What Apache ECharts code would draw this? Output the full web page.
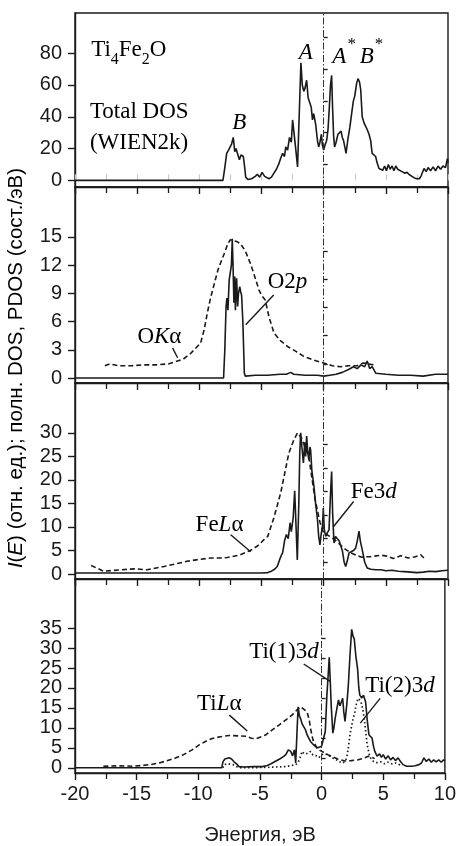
<!DOCTYPE html>
<html>
<head>
<meta charset="utf-8">
<script src="https://cdn.jsdelivr.net/npm/echarts@6/dist/echarts.min.js"></script>
<style>
html,body{margin:0;padding:0;background:#fff;}
#chart{width:459px;height:846px;}
</style>
</head>
<body>
<div id="chart"></div>
<script>
// ---- panel 1: total DOS (WIEN2k)
const totE = [-20,-8.1,-7.95,-7.8,-7.65,-7.5,-7.4,-7.27,-7.15,-7.05,-6.9,-6.78,-6.65,-6.46,-6.35,-6.27,-6.1,-5.8,-5.5,-5.33,-5.15,-4.95,-4.75,-4.4,-4.2,-4.0,-3.8,-3.6,-3.45,-3.3,-3.15,-3.05,-2.9,-2.75,-2.6,-2.5,-2.4,-2.25,-2.1,-1.95,-1.83,-1.72,-1.6,-1.5,-1.37,-1.25,-1.1,-1.0,-0.9,-0.8,-0.64,-0.5,-0.4,-0.3,-0.18,-0.1,0,0.1,0.24,0.35,0.45,0.55,0.64,0.72,0.8,0.88,1.0,1.15,1.3,1.4,1.5,1.6,1.7,1.8,1.95,2.1,2.25,2.39,2.5,2.65,2.76,2.88,2.98,3.1,3.25,3.38,3.5,3.65,3.78,3.9,4.05,4.18,4.3,4.45,4.6,4.75,4.9,5.05,5.2,5.35,5.5,5.65,5.8,5.95,6.1,6.3,6.5,6.7,6.9,7.1,7.3,7.5,7.7,7.85,8.07,8.25,8.4,8.6,8.8,9.0,9.2,9.4,9.6,9.8,9.95,10];
const totV = [0,0,8,17,19,20,23,27,18,20,21,13,16,15,8,2,0.5,1,2.5,3.8,2,5,2.5,1,2,4.5,7,10.5,14,17,15,21,19,27,24,38,31,20,8.4,45,74,60,56,58,63,52,53,46,38,42,35,25,21,24,29,22,19,22,25,32,45,60,66,45,28,21,24,29,28,31,27,25,21,17,26,33,42,50,53,61,64,62,57,40,36,34,32,29,25,17,16,15,11,7.4,8,6.3,9,6,10,7,9,6,9,7,8,5.5,4.5,5,3.5,2.5,1.5,1,1,3,7.4,5.5,8,6,8.5,6,9,7,9,8,13.6,11];

// ---- panel 2: O Ka emission and O 2p PDOS
const okaE = [-17.6,-17.2,-16.5,-15.5,-14.5,-13.5,-12.5,-12,-11.3,-10.7,-10.2,-9.9,-9.6,-9.36,-9.1,-8.8,-8.5,-8.3,-8.0,-7.7,-7.5,-7.3,-7.0,-6.7,-6.3,-5.9,-5.5,-5.2,-4.95,-4.7,-4.4,-4.0,-3.5,-2.9,-2.2,-1.6,-0.8,0,0.7,1.37,2.0,2.7,3.2,3.6,4.0];
const okaV = [1.3,1.5,1.3,1.3,1.4,1.4,1.5,1.7,2.0,2.6,3.3,3.7,5.2,6.9,8.5,10,11.5,12.2,13.2,14.3,14.7,14.6,14.5,14.3,13.5,12.2,10.6,9.35,8.7,8.3,6.5,4.8,4.0,3.35,2.8,2.3,1.9,1.6,1.3,1.2,1.3,1.3,1.6,1.5,1.4];
const o2pE = [-20,-8.05,-7.95,-7.85,-7.78,-7.7,-7.6,-7.5,-7.42,-7.35,-7.28,-7.22,-7.15,-7.1,-7.0,-6.92,-6.85,-6.75,-6.68,-6.6,-6.5,-6.38,-6.3,-5.5,-4.5,-3.5,-3.0,-2.65,-2.4,-1.5,-0.5,0,0.5,1.0,1.5,2.0,2.4,2.7,3.0,3.3,3.5,3.7,3.9,4.2,5,6,7,8,9,10];
const o2pV = [0,0,3,7.6,8.5,7.2,10.4,10.5,12,14.8,11.5,8,10.8,7.2,10.6,7.6,9,9.7,9.2,8.8,6,0.5,0.2,0.3,0.3,0.4,0.4,0.6,0.4,0.3,0.3,0.2,0.3,0.4,0.6,0.9,1.2,1.0,1.4,1.2,1.8,1.0,1.2,0.5,0.4,0.3,0.3,0.2,0.4,0.4];

// ---- panel 3: Fe La emission and Fe 3d PDOS
const felaE = [-18.7,-17.7,-16.3,-15.2,-14.2,-12.85,-12,-11,-10,-9.1,-8.4,-7.75,-6.8,-5.9,-5.3,-4.8,-4.5,-4,-3.46,-2.8,-2.4,-2.1,-1.8,-1.2,-0.7,-0.3,0,0.5,1.0,1.63,2.17,3.0,3.8,4.6,5.1,5.6,6.2,6.8,7.3,7.8,8.1];
const felaV = [1.8,0.6,0.9,1.1,0.9,1.6,2.1,2.7,3.1,3.4,3.4,3.5,4.0,5.0,6.0,7.3,8.0,12,17.2,25.7,28.5,30,29,25,16,11,8.7,8,7,5.5,4.5,3.6,3.7,4.0,3.8,3.3,3.9,3.4,3.6,4.1,3.3];
const fe3dE = [-20,-5,-4.5,-4.2,-3.95,-3.73,-3.55,-3.4,-3.3,-3.15,-3.0,-2.85,-2.7,-2.6,-2.45,-2.33,-2.22,-2.12,-2.0,-1.92,-1.85,-1.75,-1.63,-1.52,-1.45,-1.37,-1.28,-1.2,-1.1,-1.05,-0.95,-0.85,-0.78,-0.65,-0.5,-0.4,-0.3,-0.2,-0.1,-0.03,0.05,0.16,0.3,0.43,0.55,0.64,0.72,0.83,0.95,1.1,1.25,1.37,1.5,1.65,1.77,1.9,2.04,2.2,2.4,2.57,2.7,2.84,2.95,3.1,3.3,3.5,3.8,4.2,4.6,5.0,5.5,6.0,6.5,7.0,7.5,8.0,8.5,9.0,9.5,10];
const fe3dV = [0.2,0.2,0.3,0.6,1.0,1.6,3,4.0,4.5,7,8.4,7.5,10.9,9,12,17.7,10,3.0,15,26,30,27,23.6,28,25,29.3,26,24.3,27,26.4,22,20,18.6,15,11.6,8,6.2,8.5,10,14,9.5,8,8.8,9.4,17,21.8,13,6.6,8,8.4,7,7.3,5,2.5,1.6,2.8,4.5,4.8,5,5.5,7,9.1,7,5.2,2.5,1.3,1.0,0.9,0.9,0.7,0.8,0.6,0.5,0.4,0.3,0.4,0.6,0.5,0.7,0.8];

// ---- panel 4: Ti La emission, Ti(1) 3d and Ti(2) 3d PDOS
const tilaE = [-17.7,-16.5,-15.3,-14.5,-13.9,-13.2,-12.6,-11.9,-11.2,-10.5,-9.9,-9.3,-8.8,-8.2,-7.5,-6.8,-6.1,-5.7,-5.3,-4.9,-4.5,-4.0,-3.46,-2.9,-2.4,-2.0,-1.7,-1.4,-1.18,-1.0,-0.9,-0.7,-0.4,-0.1,0.2,0.5,0.83,1.3,1.9,2.4,2.97,3.4,3.8,4.1,4.3];
const tilaV = [0.4,0.5,0.4,0.6,0.8,1.2,1.7,2.4,3.3,4.5,5.8,6.8,7.4,7.8,8.1,8.0,7.9,7.4,7.3,7.8,8.3,9.5,10.7,12,13.2,14.5,15.3,14.6,14,12,9.9,7,5,4.3,3.8,3.3,2.9,2.2,1.7,1.8,2.0,2.4,2.9,2.6,2.3];
const ti1E = [-20,-8.1,-8.0,-7.85,-7.7,-7.5,-7.3,-7.1,-6.9,-6.7,-6.3,-5.5,-4.8,-4.4,-4.1,-3.7,-3.4,-3.1,-2.9,-2.7,-2.5,-2.35,-2.2,-2.1,-1.98,-1.9,-1.8,-1.71,-1.58,-1.45,-1.3,-1.18,-1.05,-0.9,-0.75,-0.6,-0.45,-0.3,-0.15,0,0.16,0.3,0.43,0.55,0.62,0.7,0.78,0.91,1.0,1.1,1.25,1.37,1.48,1.58,1.71,1.8,1.9,2.05,2.17,2.3,2.44,2.55,2.65,2.78,2.92,3.02,3.1,3.25,3.4,3.57,3.7,3.84,4.1,4.2,4.32,4.5,4.7,4.85,5.0,5.2,5.4,5.6,5.8,6.0,6.2,6.4,6.6,6.9,7.3,7.6,7.9,8.1,8.3,8.5,8.7,8.9,9.1,9.3,9.5,9.7,9.9,10];
const ti1V = [0,0,1.5,2.2,2.0,2.5,2.2,1.5,1.0,0.3,0.2,0.3,0.3,0.6,1.0,1.7,2.2,2.8,3.3,4.5,4.1,3.0,4.5,1.2,10,15.3,13,12.4,11,10.7,9.5,8.3,7.5,6.6,6.8,5.6,5.4,5,4.6,5.4,5.4,9.1,18.2,24,27.7,22,15.7,8.7,10,12.4,15,17,15.5,15.5,17.4,14,11.6,16,20.7,28,34.7,33,32.3,28,24.8,20,18.2,17.5,18.2,16.5,12,8.3,7.4,5.5,4.1,2.9,3.5,2.6,3.3,2.2,3.0,2.0,2.6,1.8,2.5,1.6,0.8,0.4,0.4,0.5,0.8,1.2,2.5,1.6,2.2,1.4,2.0,1.5,2.0,1.4,2.0,1.7];
const ti2E = [-8.0,-7.9,-7.6,-7.2,-6.9,-6.5,-4.5,-3,-2.4,-2.1,-1.9,-1.75,-1.58,-1.4,-1.25,-1.1,-0.9,-0.7,-0.4,-0.2,0,0.25,0.5,0.8,1.1,1.4,1.7,1.9,2.04,2.17,2.3,2.5,2.7,2.85,2.98,3.1,3.2,3.35,3.46,3.6,3.7,3.85,3.96,4.2,4.5,4.8,5.1,5.4,5.7,6.0,6.3,6.5];
const ti2V = [0,0.8,1.0,0.8,0.3,0,0.1,0.3,0.6,0.8,1.3,2.5,4.1,3.5,3,3.6,4.1,3.2,3,2.6,3.3,3.5,3.3,2.6,2.2,1.6,1.2,1.6,2.5,5,8.3,11.5,14,16.5,17.4,17,16.5,14.5,12.4,8.5,5.8,3.5,2.5,1.6,1.3,1.5,1.0,1.4,1.0,1.2,0.8,0.5];

// ---- axes
const yMin = [-4.2, -0.53, -1.06, -1.3];
const yMax = [105.3, 20.3, 40.6, 47.3];
const yMajor = [[0,20,40,60,80],[0,3,6,9,12,15],[0,5,10,15,20,25,30],[0,5,10,15,20,25,30,35]];
const yMinor = [[10,30,50,70,90],[1.5,4.5,7.5,10.5,13.5],[2.5,7.5,12.5,17.5,22.5,27.5],[2.5,7.5,12.5,17.5,22.5,27.5,32.5]];

const ink = '#1a1a1a';
const sans = 'Liberation Sans, Arial, sans-serif';
const serif = 'Liberation Serif, Times New Roman, serif';

function zip(xs, ys){ return xs.map((x,i)=>[x, ys[i]]); }

var myChart = echarts.init(document.getElementById('chart'));

var tops = [13, 187, 383, 579];
var heights = [174, 196, 196, 196];
var grid = tops.map((t,i)=>({left:75, right:11, top:t, height:heights[i], show:true,
  borderColor:ink, borderWidth:1.4, backgroundColor:'transparent'}));

var xAxis = [0,1,2,3].map(i=>({
  gridIndex:i, type:'value', min:-20, max:10, interval:5, position:'bottom',
  axisLine:{show:true, onZero:false, lineStyle:{color:ink, width:1.4}},
  axisTick:{show:true, inside:false, length:7, lineStyle:{color:ink, width:1.4}},
  minorTick:{show:true, splitNumber:2, length:6, lineStyle:{color:ink, width:1.3}},
  axisLabel:{show:i===3, margin:11, fontSize:20, color:ink, fontFamily:sans},
  splitLine:{show:false},
  name: i===3 ? 'Энергия, эВ' : '',
  nameLocation:'middle', nameGap:52,
  nameTextStyle:{fontSize:20, color:ink, fontFamily:sans}
}));
// faint ticks above the top panel
xAxis.push({
  gridIndex:0, type:'value', min:-20, max:10, interval:5, position:'top',
  axisLine:{show:false},
  axisTick:{show:true, inside:false, length:6, lineStyle:{color:'#c8c8c8', width:1.2}},
  minorTick:{show:true, splitNumber:2, length:6, lineStyle:{color:'#c8c8c8', width:1.2}},
  axisLabel:{show:false}, splitLine:{show:false}
});

var yAxis = [];
[0,1,2,3].forEach(i=>{
  yAxis.push({
    gridIndex:i, type:'value', min:yMin[i], max:yMax[i],
    axisLine:{show:true, onZero:false, lineStyle:{color:ink, width:1.4}},
    axisTick:{show:true, inside:false, length:7, customValues:yMajor[i], lineStyle:{color:ink, width:1.4}},
    axisLabel:{show:true, customValues:yMajor[i], margin:13, fontSize:20, color:ink, fontFamily:sans},
    splitLine:{show:false}
  });
  yAxis.push({
    gridIndex:i, type:'value', min:yMin[i], max:yMax[i],
    axisLine:{show:false},
    axisTick:{show:true, inside:false, length:4, customValues:yMinor[i], lineStyle:{color:ink, width:1.3}},
    axisLabel:{show:false}, splitLine:{show:false}
  });
});

function line(g, xs, ys, dash, width, withZero){
  var s = {
    type:'line', xAxisIndex:g, yAxisIndex:2*g, data:zip(xs, ys),
    symbol:'none', showSymbol:false, silent:true,
    lineStyle:{color:ink, width:width, type:dash}
  };
  if (withZero) {
    s.markLine = {silent:true, symbol:'none', label:{show:false},
      lineStyle:{color:'#333', width:1, type:[7,2,1.5,2]},
      data:[{xAxis:0}]};
  }
  return s;
}

var series = [
  line(0, totE, totV, 'solid', 1.6, true),
  line(1, okaE, okaV, [5,3], 1.6, true),
  line(1, o2pE, o2pV, 'solid', 1.6, false),
  line(2, felaE, felaV, [5,3], 1.6, true),
  line(2, fe3dE, fe3dV, 'solid', 1.6, false),
  line(3, tilaE, tilaV, [5,3], 1.6, true),
  line(3, ti1E, ti1V, 'solid', 1.6, false),
  line(3, ti2E, ti2V, [1.5,2.5], 1.7, false)
];

myChart.setOption({
  animation:false,
  backgroundColor:'#fff',
  grid:grid, xAxis:xAxis, yAxis:yAxis, series:series
});

// annotations, placed in data coordinates of each panel
var rich = {
  n:{fontFamily:serif, fontSize:23, color:ink},
  i:{fontFamily:serif, fontSize:23, fontStyle:'italic', color:ink},
  // subscript: main text hangs from the top of the line box, the index sits on its bottom
  m:{fontFamily:serif, fontSize:23, color:ink, lineHeight:24, verticalAlign:'top'},
  b:{fontFamily:serif, fontSize:16, color:ink, lineHeight:30, verticalAlign:'bottom'},
  // superscript: letter sits on the bottom, star hangs from the top
  a:{fontFamily:serif, fontSize:23, fontStyle:'italic', color:ink, lineHeight:32, verticalAlign:'bottom'},
  p:{fontFamily:serif, fontSize:17, color:'#666', lineHeight:16, verticalAlign:'top', padding:[0,0,0,1]}
};
var notes = [
  {s:0, at:[-18.7,80], text:'{m|Ti}{b|4}{m|Fe}{b|2}{m|O}'},
  {s:0, at:[-18.8,43], text:'{n|Total DOS}'},
  {s:0, at:[-18.8,23.4], text:'{n|(WIEN2k)}'},
  {s:0, at:[-7.35,36], text:'{i|B}'},
  {s:0, at:[-2.0,80], text:'{i|A}'},
  {s:0, at:[0.7,80.5], text:'{a|A}{p|*}'},
  {s:0, at:[2.9,80.5], text:'{a|B}{p|*}'},
  {s:1, at:[-14.98,4.37], text:'{n|O}{i|K}{n|α}'},
  {s:1, at:[-4.5,10.2], text:'{n|O2}{i|p}'},
  {s:3, at:[-10.3,10.5], text:'{n|Fe}{i|L}{n|α}'},
  {s:3, at:[2.17,17.5], text:'{n|Fe3}{i|d}'},
  {s:5, at:[-10.1,16.1], text:'{n|Ti}{i|L}{n|α}'},
  {s:5, at:[-5.87,29], text:'{n|Ti(1)3}{i|d}'},
  {s:5, at:[3.54,20.6], text:'{n|Ti(2)3}{i|d}'}
];
var pointers = [
  {s:1, a:[-12.15,3.2], b:[-11.75,2.15]},
  {s:1, a:[-4.02,8.83], b:[-6.27,5.65]},
  {s:3, a:[-7.48,8.36], b:[-5.87,4.74]},
  {s:3, a:[2.41,15.4], b:[0.8,10.1]},
  {s:5, a:[-7.48,13.2], b:[-6.03,9.2]},
  {s:5, a:[-1.45,26], b:[0.72,21.6]},
  {s:5, a:[4.75,17.4], b:[3.14,11.2]}
];

var graphic = [];
notes.forEach(n=>{
  var p = myChart.convertToPixel({seriesIndex:n.s}, n.at);
  graphic.push({type:'text', x:p[0], y:p[1], silent:true, style:{
    text:n.text, align:'left', verticalAlign:'middle', rich:rich
  }});
});
pointers.forEach(l=>{
  var a = myChart.convertToPixel({seriesIndex:l.s}, l.a);
  var b = myChart.convertToPixel({seriesIndex:l.s}, l.b);
  graphic.push({type:'line', silent:true, shape:{x1:a[0], y1:a[1], x2:b[0], y2:b[1]},
    style:{stroke:ink, lineWidth:1.4}});
});
graphic.push({type:'text', x:16, y:368, rotation:Math.PI/2, silent:true, style:{
  text:'{it|I}{t|(}{it|E}{t|) (отн. ед.); полн. DOS, PDOS (сост./эВ)}',
  align:'center', verticalAlign:'middle',
  rich:{
    t:{fontFamily:sans, fontSize:20.5, color:ink},
    it:{fontFamily:sans, fontSize:20.5, fontStyle:'italic', color:ink}
  }
}});
myChart.setOption({graphic:graphic});
</script>
</body>
</html>
